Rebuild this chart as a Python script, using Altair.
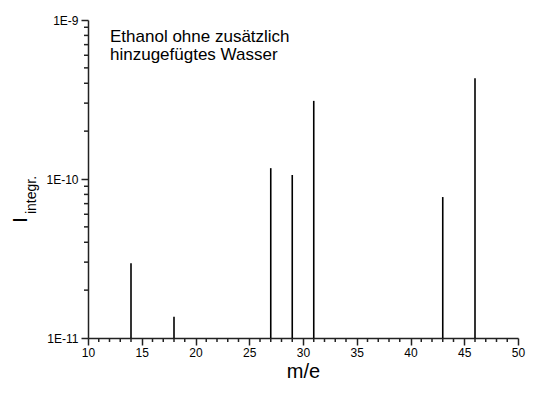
import altair as alt
import pandas as pd

# data
mass = [14, 18, 27, 29, 31, 43, 46]
intensity = [2.95e-11, 1.36e-11, 1.17e-10, 1.06e-10, 3.1e-10, 7.7e-11, 4.3e-10]
base_value = 1e-11

x_major = [10, 15, 20, 25, 30, 35, 40, 45, 50]
x_minor = [v for v in range(11, 50) if v % 5 != 0]
y_major = [1e-11, 1e-10, 1e-9]
y_minor = [m * 1e-11 for m in range(2, 10)] + [m * 1e-10 for m in range(2, 10)]

note_lines = ["Ethanol ohne zusätzlich", "hinzugefügtes Wasser"]
x_title = "m/e"
y_title_main = "I"
y_title_sub = "integr."

W, H = 430, 318

df = pd.DataFrame({"m": mass, "I": intensity, "base": [base_value] * len(mass)})

FONT = "Liberation Sans"
AXC = "#222222"

xscale = alt.Scale(domain=[10, 50], nice=False, zero=False)
yscale = alt.Scale(type="log", domain=[1e-11, 1e-9], nice=False)

y_label_expr = "datum.value < 5e-11 ? '1E-11' : (datum.value < 5e-10 ? '1E-10' : '1E-9')"

bars = alt.Chart(df).mark_rule(color="black", strokeWidth=1.6).encode(
    x=alt.X("m:Q", scale=xscale,
            axis=alt.Axis(values=x_major, ticks=True, tickSize=7, tickWidth=1.5,
                          domainWidth=1.5, domainColor=AXC, tickColor=AXC, tickOpacity=1,
                          labelFont=FONT, labelFontSize=12, labelColor="black",
                          labelPadding=2, labelOverlap=False,
                          title=x_title, titleFont=FONT, titleFontSize=20,
                          titleFontWeight="normal", titleColor="black", titlePadding=3,
                          grid=False, orient="bottom", labelFlush=False)),
    y=alt.Y("I:Q", scale=yscale,
            axis=alt.Axis(values=y_major, ticks=True, tickSize=7, tickWidth=1.5,
                          domainWidth=1.5, domainColor=AXC, tickColor=AXC, tickOpacity=1,
                          labelFont=FONT, labelFontSize=12, labelColor="black",
                          labelPadding=3, labelExpr=y_label_expr, labelOverlap=False,
                          title=None, grid=False, orient="left", labelFlush=False)),
    y2="base:Q",
)

xminor_df = pd.DataFrame({"v": x_minor})
xminor = alt.Chart(xminor_df).mark_rule(color=AXC, strokeWidth=1.5).encode(
    x=alt.X("v:Q", scale=xscale),
    y=alt.value(H), y2=alt.value(H + 4),
)

yminor_df = pd.DataFrame({"v": y_minor})
yminor = alt.Chart(yminor_df).mark_rule(color=AXC, strokeWidth=1.5).encode(
    y=alt.Y("v:Q", scale=yscale),
    x=alt.value(0), x2=alt.value(-4),
)

note1 = alt.Chart(pd.DataFrame({"t": [note_lines[0]]})).mark_text(
    align="left", baseline="alphabetic", font=FONT, fontSize=17, color="black"
).encode(text="t:N", x=alt.value(22), y=alt.value(22))

note2 = alt.Chart(pd.DataFrame({"t": [note_lines[1]]})).mark_text(
    align="left", baseline="alphabetic", font=FONT, fontSize=17, color="black"
).encode(text="t:N", x=alt.value(22), y=alt.value(40))

ytitle1 = alt.Chart(pd.DataFrame({"t": [y_title_main]})).mark_text(
    align="center", baseline="alphabetic", angle=270, font=FONT, fontSize=20, color="black"
).encode(text="t:N", x=alt.value(-61), y=alt.value(200))

ytitle2 = alt.Chart(pd.DataFrame({"t": [y_title_sub]})).mark_text(
    align="center", baseline="alphabetic", angle=270, font=FONT, fontSize=14, color="black"
).encode(text="t:N", x=alt.value(-52), y=alt.value(175))

chart = alt.layer(bars, xminor, yminor, note1, note2, ytitle1, ytitle2).properties(
    width=W, height=H,
    autosize=alt.AutoSizeParams(type="none"),
    padding={"left": 80, "top": 12, "right": 9, "bottom": 42},
).configure_view(stroke=None)

chart.save("out.html", embed_options={"renderer": "svg", "actions": False})
